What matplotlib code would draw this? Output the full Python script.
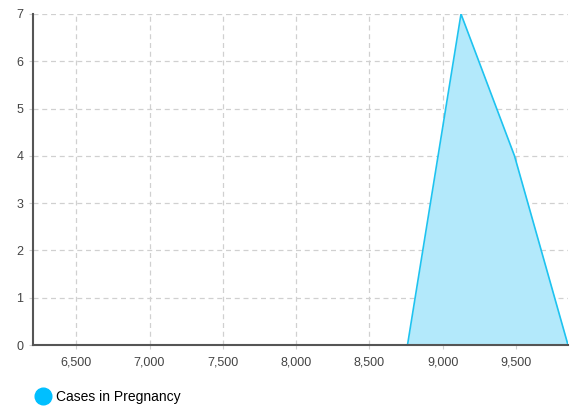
import matplotlib
matplotlib.use("Agg")
import matplotlib.pyplot as plt
from matplotlib.ticker import FuncFormatter, MultipleLocator
from matplotlib.lines import Line2D

days = [8760, 9125, 9490, 9855]
cases = [0, 7, 4, 0]
series_name = "Cases in Pregnancy"
x_min, x_max = 6205, 9855

plt.rcParams['font.family'] = ['Liberation Sans', 'DejaVu Sans']

fig = plt.figure(figsize=(5.73, 4.11), dpi=100)
ax = fig.add_axes([33/573, 1-345/411, (568-33)/573, (345-14)/411])

line_c = '#1ec3f0'
fill_c = '#b3e9fb'
ax.fill_between(days, cases, 0, color=fill_c, zorder=2, linewidth=0)
ax.plot(days, cases, color=line_c, linewidth=1.2, zorder=3)

ax.set_xlim(x_min, x_max)
ax.set_ylim(0, 7)
ax.xaxis.set_major_locator(MultipleLocator(500))
ax.yaxis.set_major_locator(MultipleLocator(1))
ax.xaxis.set_major_formatter(FuncFormatter(lambda v, p: f"{int(v):,}"))
ax.grid(True, color='#d0d0d0', linestyle=(0, (4, 3)), linewidth=0.9, zorder=0)
for s in ['top', 'right']:
    ax.spines[s].set_visible(False)
for s in ['left', 'bottom']:
    ax.spines[s].set_color('#555555')
    ax.spines[s].set_linewidth(1.5)
    ax.spines[s].set_zorder(4)
ax.tick_params(axis='both', length=3, color='#d0d0d0', labelsize=9, labelcolor='#444444')
ax.tick_params(axis='x', pad=5)
ax.tick_params(axis='y', pad=4)

handle = Line2D([], [], marker='o', linestyle='none', markersize=12,
                markerfacecolor='#00bfff', markeredgecolor='#00bfff')
fig.legend([handle], [series_name], loc='center left', bbox_to_anchor=(30/573, 1-397/411),
           frameon=False, fontsize=10, handletextpad=0.5, borderaxespad=0, handlelength=1.0)

fig.savefig('out.png', dpi=100)
